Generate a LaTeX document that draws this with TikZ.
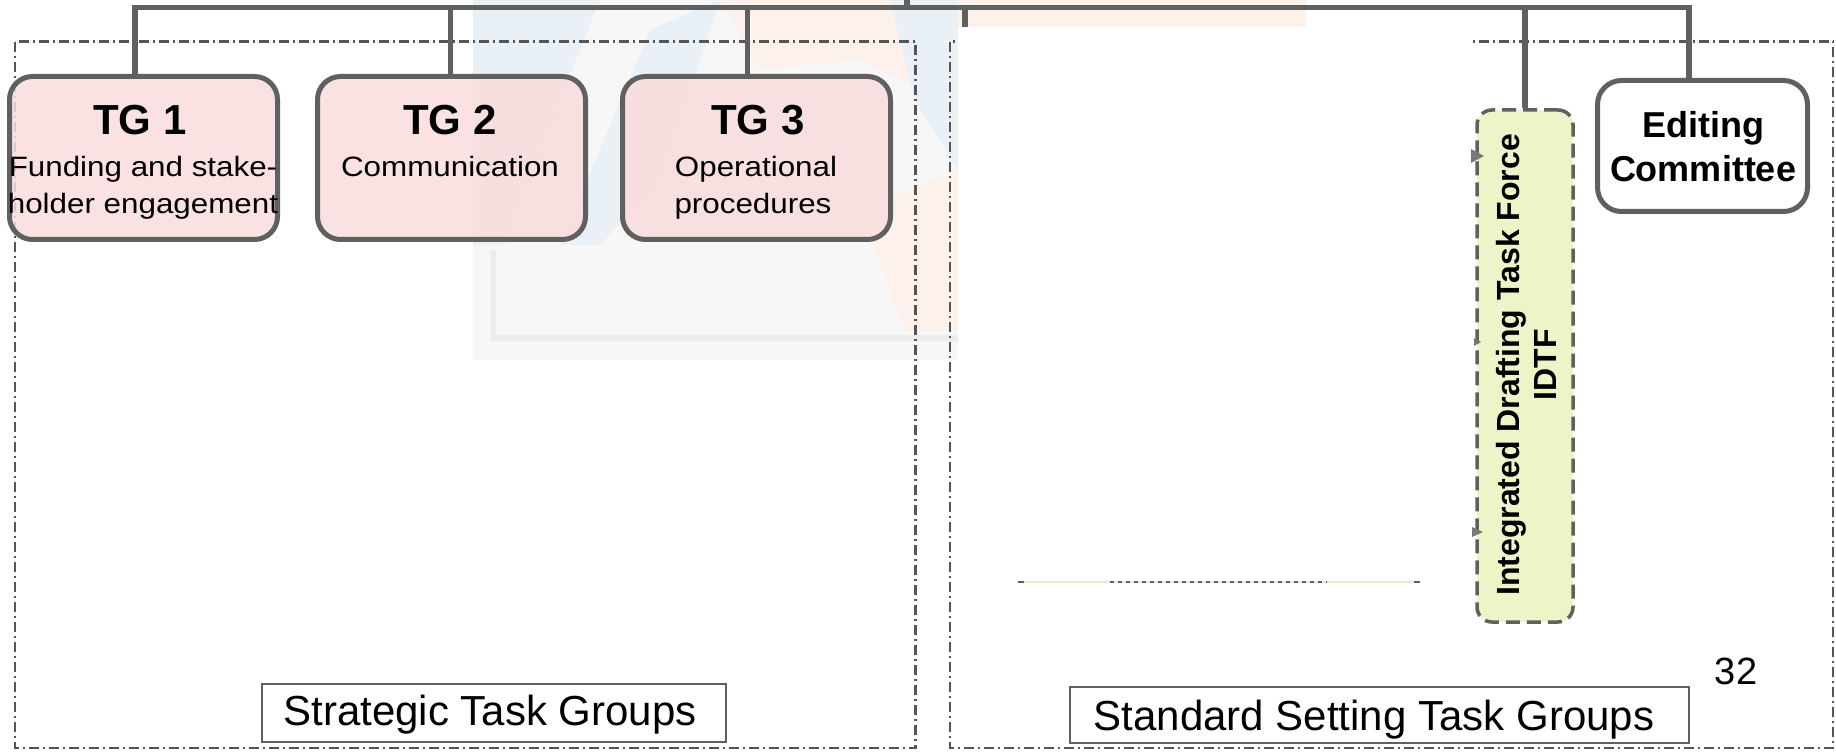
\documentclass[tikz,border=0pt]{standalone}
\usepackage{fontspec}
\setmainfont{Liberation Sans}
\newfontfamily\widefont[FakeStretch=1.12]{Liberation Sans}
\definecolor{lgrey}{RGB}{96,96,96}
\definecolor{dgrey}{RGB}{85,85,85}
\definecolor{pinkfill}{RGB}{250,221,221}
\definecolor{greenfill}{RGB}{236,245,200}
\definecolor{wmgrey}{RGB}{247,247,247}
\definecolor{wmblue}{RGB}{233,240,246}
\definecolor{wmorange}{RGB}{253,242,235}
\definecolor{wmframe}{RGB}{236,236,236}
\definecolor{artgreen}{RGB}{222,240,210}
\definecolor{arrowgrey}{RGB}{120,120,120}
\tikzset{
  conn/.style={draw=lgrey, line width=2.6pt},
  tgbox/.style={draw=lgrey, line width=2.5pt, rounded corners=11.5pt, fill=pinkfill, fill opacity=0.85,
    minimum width=134pt, minimum height=81.5pt, inner sep=0pt},
  edbox/.style={draw=lgrey, line width=2.5pt, rounded corners=12pt, fill=white,
    minimum width=105pt, minimum height=65.5pt, inner sep=0pt},
  idtfbox/.style={draw=lgrey, line width=1.75pt, rounded corners=7.5pt, fill=greenfill,
    dash pattern=on 7pt off 3.5pt, minimum width=48pt, minimum height=256pt, inner sep=0pt},
  grpbox/.style={draw=dgrey, line width=1.3pt, dash pattern=on 5pt off 2pt on 1pt off 2pt},
  lblbox/.style={draw=lgrey, line width=1pt, fill=white, inner sep=0pt},
  headtxt/.style={anchor=base, inner sep=0pt, font=\bfseries\fontsize{21}{25}\selectfont},
  bodytxt/.style={anchor=base, inner sep=0pt, font=\widefont\fontsize{14}{18}\selectfont},
  lbltxt/.style={anchor=base, inner sep=0pt, font=\fontsize{21}{25}\selectfont},
}
\begin{document}
\begin{tikzpicture}[x=0.5pt,y=-0.5pt]
\useasboundingbox (0,0) rectangle (1836,754);
% faint background watermark
\fill[wmgrey] (473,0) rectangle (958,360);
\fill[wmblue] (473,0) -- (600,0) -- (540,150) -- (505,245) -- (473,245) -- cycle;
\fill[wmblue] (650,30) -- (720,0) -- (660,180) -- (600,245) -- (560,245) -- cycle;
\fill[wmorange] (720,0) -- (958,0) -- (958,110) -- (860,60) -- (760,70) -- cycle;
\fill[wmblue] (890,0) -- (958,0) -- (958,170) -- (915,100) -- cycle;
\fill[wmorange] (860,210) -- (958,170) -- (958,330) -- (905,330) -- cycle;
\draw[wmframe, line width=3pt] (493,250) -- (493,338) -- (958,338);
\fill[wmorange] (958,0) rectangle (1306,27);
% group frames
\draw[grpbox] (15,41.7) rectangle (915.7,748);
\draw[grpbox] (950,41.7) rectangle (1833,748);
% white overlay
\fill[white] (958,26.7) rectangle (1473,581);
\draw[artgreen, line width=0.6pt] (1018,582) -- (1420,582);
\draw[lgrey, line width=0.6pt, dash pattern=on 2pt off 2pt] (1110,582) -- (1327,582);
\draw[lgrey, line width=0.6pt] (1018,582) -- (1024,582);
\draw[lgrey, line width=0.6pt] (1414,582) -- (1420,582);
% boxes
\node[tgbox] (tg1) at (143.5,158) {};
\node[tgbox] (tg2) at (451.5,158) {};
\node[tgbox] (tg3) at (756.5,158) {};
\node[idtfbox] (idtf) at (1525,366) {};
\node[edbox] (edit) at (1702.5,146) {};
% arrow tips peeking out
\fill[arrowgrey] (1471,149) -- (1484,156) -- (1471,163) -- cycle;
\fill[arrowgrey] (1474,338) -- (1481,342) -- (1474,346) -- cycle;
\fill[arrowgrey] (1472,527) -- (1483,532) -- (1472,537) -- cycle;
% texts
\node[headtxt] (tg1h) at (140,135) {TG 1};
\node[bodytxt] (tg1b) at (143,177) {Funding and stake-};
\node[bodytxt] (tg1c) at (143,214) {holder engagement};
\node[headtxt] (tg2h) at (450,135) {TG 2};
\node[bodytxt] (tg2b) at (450,177) {Communication};
\node[headtxt] (tg3h) at (758,135) {TG 3};
\node[bodytxt] (tg3b) at (756,177) {Operational};
\node[bodytxt] (tg3c) at (753,214) {procedures};
\node[rotate=90, align=center, inner sep=0pt, font=\bfseries\fontsize{16}{18.5}\selectfont] (idtft) at (1526,365) {Integrated Drafting Task Force\\IDTF};
\node[align=center, inner sep=0pt, font=\bfseries\fontsize{18}{22}\selectfont] (editt) at (1703,147) {Editing\\Committee};
% connectors
\coordinate (b1) at (135,7.5);
\coordinate (b2) at (450.7,7.5);
\coordinate (b3) at (747.3,7.5);
\coordinate (b4) at (1525,7.5);
\coordinate (b5) at (1689,7.5);
\coordinate (up) at (907,0);
\coordinate (stubA) at (964.5,7.5);
\coordinate (stubB) at (964.5,26.7);
\draw[conn] (b1 |- tg1.north) -- (b1) -- (b5) -- (b5 |- edit.north);
\draw[conn] (b2) -- (b2 |- tg2.north);
\draw[conn] (b3) -- (b3 |- tg3.north);
\draw[conn] (b4) -- (b4 |- idtf.north);
\draw[conn] (up) -- (up |- b1);
\draw[conn, line width=3pt] (stubA) -- (stubB);
% bottom labels
\node[lblbox, minimum width=232pt, minimum height=29pt] (stgbox) at (494,713) {};
\node[lbltxt] (stgtxt) at (490,725) {Strategic Task Groups};
\node[lblbox, minimum width=309.5pt, minimum height=28pt] (ssbox) at (1379.5,715) {};
\node[lbltxt] (sstxt) at (1374,730) {Standard Setting Task Groups};
\node[anchor=base, inner sep=0pt, font=\fontsize{19}{23}\selectfont] (pg) at (1736,684) {32};
\end{tikzpicture}
\end{document}
